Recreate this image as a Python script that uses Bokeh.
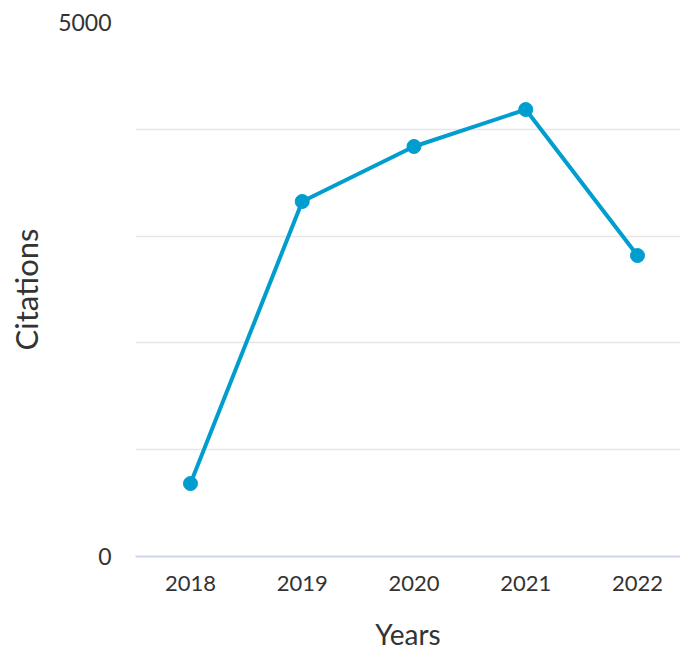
from bokeh.plotting import figure
from bokeh.models import Range1d, FixedTicker, ColumnDataSource
from bokeh.embed import file_html
from bokeh.resources import INLINE

years = [2018, 2019, 2020, 2021, 2022]
citations = [683, 3324, 3839, 4185, 2818]
y_label_ticks = [0, 5000]
y_grid_ticks = [0, 1000, 2000, 3000, 4000, 5000]

FONT = "Lato"
LINE = "#009dcf"

src = ColumnDataSource(dict(x=years, y=citations))

p = figure(width=680, height=653, output_backend="svg", toolbar_location=None,
           x_range=Range1d(2017.508, 2022.385), y_range=Range1d(0, 5000),
           min_border_left=135, min_border_right=0, min_border_top=22, min_border_bottom=97)
p.outline_line_color = None

p.line("x", "y", source=src, line_color=LINE, line_width=4)
p.scatter("x", "y", source=src, size=14, fill_color=LINE, line_color=LINE)

p.xaxis.ticker = FixedTicker(ticks=years)
p.xaxis.axis_line_color = "#ccd6eb"
p.xaxis.axis_line_width = 2
p.xaxis.major_tick_line_color = None
p.xaxis.minor_tick_line_color = None
p.xaxis.major_label_text_font = FONT
p.xaxis.major_label_text_font_size = "22px"
p.xaxis.major_label_text_color = "#333333"
p.xaxis.major_label_standoff = 13
p.xaxis.axis_label = "Years"
p.xaxis.axis_label_text_font = FONT
p.xaxis.axis_label_text_font_size = "28px"
p.xaxis.axis_label_text_font_style = "normal"
p.xaxis.axis_label_text_color = "#333333"
p.xaxis.axis_label_standoff = 23

p.yaxis.ticker = FixedTicker(ticks=y_label_ticks)
p.yaxis.axis_line_color = None
p.yaxis.major_tick_line_color = None
p.yaxis.minor_tick_line_color = None
p.yaxis.major_label_text_font = FONT
p.yaxis.major_label_text_font_size = "23px"
p.yaxis.major_label_text_color = "#333333"
p.yaxis.major_label_standoff = 18
p.yaxis.axis_label = "Citations"
p.yaxis.axis_label_text_font = FONT
p.yaxis.axis_label_text_font_size = "31px"
p.yaxis.axis_label_text_font_style = "normal"
p.yaxis.axis_label_text_color = "#333333"
p.yaxis.axis_label_standoff = 10

p.xgrid.grid_line_color = None
p.ygrid.ticker = FixedTicker(ticks=y_grid_ticks)
p.ygrid.grid_line_color = "#e6e6e6"
p.ygrid.grid_line_width = 1.5

open("out.html", "w").write(file_html(p, INLINE))
